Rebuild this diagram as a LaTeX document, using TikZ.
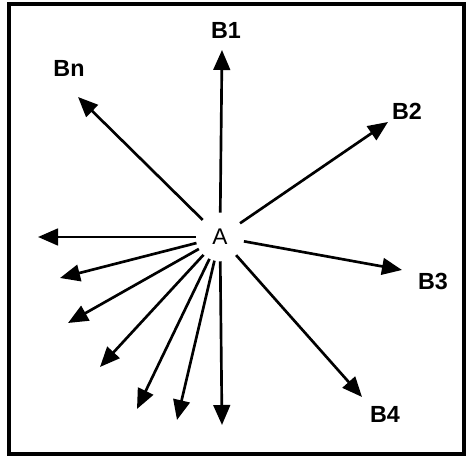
\documentclass[tikz,border=0pt]{standalone}
\usepackage{fontspec}
\setmainfont{Liberation Sans}
\usetikzlibrary{arrows.meta}
\begin{document}
\begin{tikzpicture}[x=0.75pt,y=-0.75pt,
  lbl/.style={font=\fontsize{17.5}{17.5}\selectfont\bfseries, anchor=base, inner sep=0pt},
  hub/.style={circle, inner sep=0pt, minimum size=36pt, font=\fontsize{17}{17}\selectfont},
  ray/.style={line width=2pt, -{Triangle[length=15pt,width=12.5pt]}},
  frame/.style={line width=2.6pt}]
\useasboundingbox (0,0) rectangle (469,456);
\draw[frame] (9,4) rectangle (464,454);
\node[hub] (A) at (220,237) {A};
\node[lbl] (B1) at (226,39) {B1};
\node[lbl] (Bn) at (69,77) {Bn};
\node[lbl] (B2) at (407,120) {B2};
\node[lbl] (B3) at (433,290) {B3};
\node[lbl] (B4) at (385,423) {B4};
\coordinate (t1) at (222,50);
\coordinate (tn) at (78,97);
\coordinate (t2) at (388,122);
\coordinate (t3) at (402,270);
\coordinate (t4) at (362,397);
\coordinate (u1) at (38,237);
\coordinate (u2) at (60,278);
\coordinate (u3) at (68,323);
\coordinate (u4) at (100,367);
\coordinate (u5) at (137,409);
\coordinate (u6) at (177,420);
\coordinate (u7) at (222,425);
\foreach \t in {t1,tn,t2,t3,t4,u1,u2,u3,u4,u5,u6,u7}
  \draw[ray] (A) -- (\t);
\end{tikzpicture}
\end{document}
